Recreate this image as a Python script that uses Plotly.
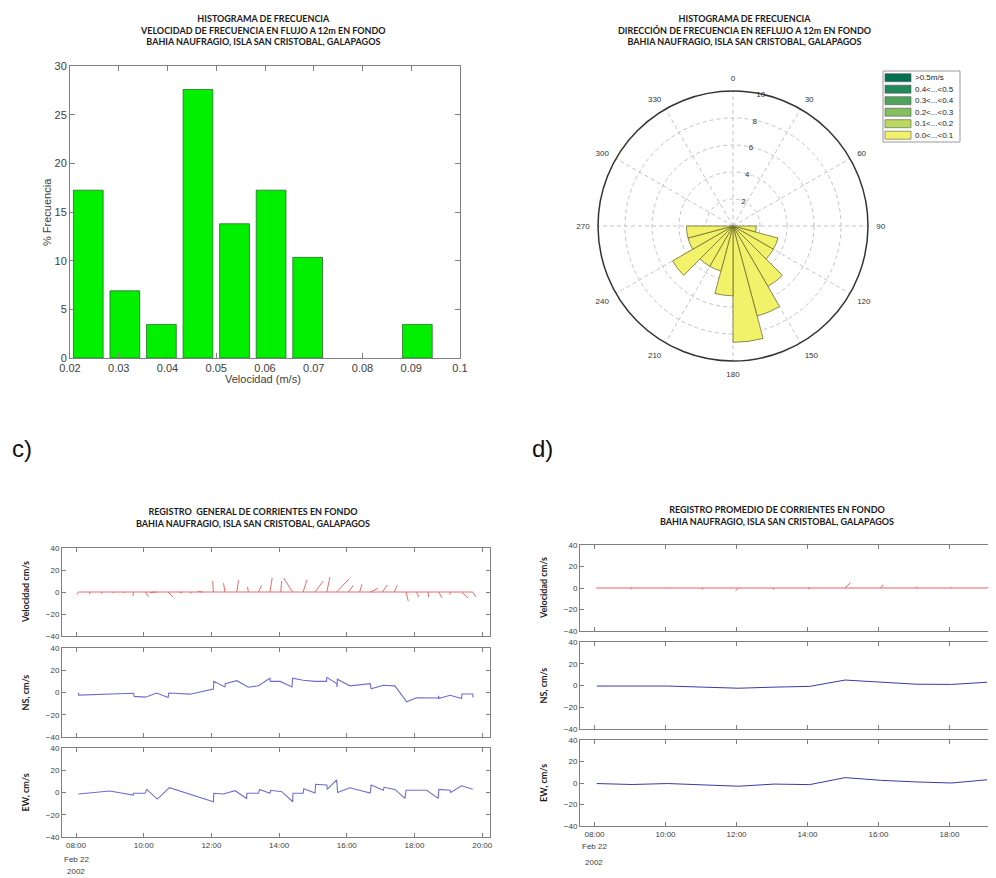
import plotly.graph_objects as go

# the page body has an 8px margin, so the figure is shrunk by it and every
# position below is given in window pixels of the 996x878 screenshot
OFF = 8
W, H = 996 - OFF, 878 - OFF

# ---------------- a) histograma de velocidad (flujo)
VEL_CENTERS = [0.02375, 0.03125, 0.03875, 0.04625, 0.05375, 0.06125, 0.06875, 0.07625, 0.08375, 0.09125]
VEL_PCT = [17.24, 6.90, 3.45, 27.59, 13.79, 17.24, 10.34, 0.0, 0.0, 3.45]

# ---------------- b) rosa de direcciones (reflujo), sectores de 15 grados
DIR_CENTERS = [97.5, 112.5, 127.5, 142.5, 157.5, 172.5, 187.5, 202.5, 217.5, 232.5, 247.5, 262.5]
DIR_PCT = [1.72, 3.45, 3.45, 5.17, 6.90, 8.62, 5.17, 3.45, 3.45, 5.17, 3.45, 3.45]
ANG_TICKS = [0, 30, 60, 90, 120, 150, 180, 210, 240, 270, 300, 330]
RAD_TICKS = [2, 4, 6, 8, 10]
LEGEND_LABELS = [">0.5m/s", "0.4<...<0.5", "0.3<...<0.4", "0.2<...<0.3", "0.1<...<0.2", "0.0<...<0.1"]
LEGEND_COLORS = ["#00704f", "#21895a", "#4ea45c", "#84c060", "#bcd95f", "#f2f26a"]

# ---------------- c) registro general (horas del 22 feb 2002)
NS_T = [8.07, 8.08, 9.70, 9.72, 10.05, 10.38, 10.72, 10.74, 11.37, 12.06, 12.07, 12.40, 12.41,
        12.75, 13.09, 13.39, 13.73, 13.74, 14.03, 14.38, 14.40, 14.71, 15.06, 15.40, 15.41,
        15.70, 15.71, 15.72, 16.09, 16.69, 16.72, 17.08, 17.42, 17.77, 18.06, 18.70, 18.71,
        18.72, 19.05, 19.39, 19.40, 19.72, 19.73]
NS_V = [0.0, -2.3, -0.7, -3.5, -4.2, -0.5, -4.5, -0.5, -1.5, 3.0, 10.0, 5.0, 8.0,
        10.6, 4.7, 6.0, 12.8, 10.0, 10.0, 5.0, 12.8, 11.0, 10.0, 10.0, 13.6,
        8.0, 5.0, 12.0, 6.0, 8.0, 3.4, 6.5, 6.0, -8.3, -4.7, -5.0, -3.0,
        -5.5, -2.5, -5.5, -1.4, -1.4, -4.5]
EW_T = [8.07, 9.00, 9.69, 9.70, 10.04, 10.09, 10.40, 10.76, 12.06, 12.07, 12.35, 12.70, 13.04,
        13.05, 13.39, 13.42, 13.73, 13.75, 14.08, 14.40, 14.41, 14.71, 14.73, 15.06, 15.08,
        15.41, 15.42, 15.70, 15.73, 16.09, 16.69, 16.72, 17.08, 17.10, 17.42, 17.72, 17.75,
        18.36, 18.70, 18.72, 19.05, 19.07, 19.39, 19.72]
EW_V = [-1.3, 1.3, -2.3, -0.7, -0.7, 2.8, -5.9, 4.3, -8.3, -0.7, -1.3, 1.6, -5.3,
        -0.7, -0.7, 2.8, -0.7, 2.0, 0.7, -8.3, -0.7, -0.7, 3.4, -0.5, 7.4,
        6.7, 2.8, 11.3, 0.0, 4.3, -0.5, 6.7, 2.0, 4.7, 2.8, -5.3, 2.0,
        2.0, -5.3, 2.8, 2.0, 0.0, 6.0, 3.0]
ST_T = [8.07, 8.41, 8.75, 9.09, 9.43, 9.70, 10.05, 10.38, 10.72, 11.06, 11.40, 11.73,
        12.06, 12.40, 12.75, 13.09, 13.39, 13.73, 14.05, 14.40, 14.71, 15.06, 15.41, 15.70,
        16.05, 16.38, 16.70, 17.05, 17.40, 17.75, 18.06, 18.40, 18.72, 19.05, 19.39, 19.72]
ST_NS = [-2.3, -2.0, -1.6, -1.2, -0.9, -3.5, -4.2, -0.5, -4.5, -0.8, -1.5, 0.5,
         10.0, 8.0, 10.6, 4.7, 6.0, 12.8, 10.0, 12.8, 11.0, 10.0, 13.6, 12.0,
         6.0, 7.0, 3.4, 6.5, 6.0, -8.3, -4.7, -4.8, -5.5, -2.5, -5.5, -4.5]
ST_EW = [-1.3, -0.3, 0.6, 1.2, 0.2, -0.7, 2.8, -5.9, 4.3, 2.0, -0.5, -4.0,
         -0.7, -1.3, 1.6, -0.7, 2.8, 2.0, 0.7, -8.3, 3.4, 7.4, 2.8, 11.3,
         4.3, 2.0, 6.7, 4.7, 2.8, 2.0, 2.0, 0.5, 2.8, 0.0, 6.0, 3.0]

# ---------------- d) registro promedio horario
AVG_T = [8.06, 9.06, 10.06, 11.06, 12.06, 13.06, 14.06, 15.06, 16.06, 17.06, 18.06, 19.06]
AVG_NS = [-0.5, -0.8, -0.5, -1.5, -2.5, -1.5, -0.8, 5.0, 3.0, 1.2, 1.0, 3.0]
AVG_EW = [-0.5, -1.4, -0.5, -1.4, -3.0, -1.0, -1.5, 5.0, 2.5, 1.0, 0.0, 3.0]

HOUR_TICKS = [8, 10, 12, 14, 16, 18, 20]
HOUR_LABELS = ["08:00", "10:00", "12:00", "14:00", "16:00", "18:00", "20:00"]

FONT = "Liberation Sans, Arial, sans-serif"
TFONT = "Lato, Open Sans, sans-serif"
GRAY = "#7f7f7f"
TXT = "#404040"


def px(x):
    return (x - OFF) / W


def py(y):
    return 1 - (y - OFF) / H


def sticks(t, u, v, hr_per_unit):
    xs, ys = [t[0], t[-1], None], [0, 0, None]
    for ti, ui, vi in zip(t, u, v):
        xs += [ti, ti + ui * hr_per_unit, None]
        ys += [0, vi, None]
    return xs, ys


fig = go.Figure()

# a) histogram (empty bins are not drawn)
bars = [(c, v) for c, v in zip(VEL_CENTERS, VEL_PCT) if v > 0]
fig.add_trace(go.Bar(x=[b[0] for b in bars], y=[b[1] for b in bars], width=0.0061,
                     marker=dict(color="#00f000", line=dict(color="#2b6b2b", width=0.8)),
                     xaxis="x", yaxis="y", showlegend=False))

# b) rose
fig.add_trace(go.Barpolar(theta=DIR_CENTERS, r=DIR_PCT, width=15,
                          marker=dict(color="#f2f26a", line=dict(color="#707030", width=0.8)),
                          subplot="polar", showlegend=False))

# c) general record
C_X0, C_X1 = 62, 490
C_RANGE = [7.586, 20.23]
C_ROWS = [(548, 636), (648, 737), (748, 837)]
c_hr_per_unit = ((C_ROWS[0][1] - C_ROWS[0][0]) / 80) / ((C_X1 - C_X0) / (C_RANGE[1] - C_RANGE[0]))
sx, sy = sticks(ST_T, ST_EW, ST_NS, c_hr_per_unit)
fig.add_trace(go.Scatter(x=sx, y=sy, mode="lines", line=dict(color="#e65a5a", width=0.9),
                         xaxis="x2", yaxis="y2", showlegend=False))
fig.add_trace(go.Scatter(x=NS_T, y=NS_V, mode="lines", line=dict(color="#6e6ed2", width=1.1),
                         xaxis="x3", yaxis="y3", showlegend=False))
fig.add_trace(go.Scatter(x=EW_T, y=EW_V, mode="lines", line=dict(color="#6e6ed2", width=1.1),
                         xaxis="x4", yaxis="y4", showlegend=False))

# d) averaged record
D_X0, D_X1 = 580, 996
D_RANGE = [7.59, 19.31]
D_ROWS = [(545, 631), (642, 729), (740, 826)]
d_hr_per_unit = ((D_ROWS[0][1] - D_ROWS[0][0]) / 80) / ((D_X1 - D_X0) / (D_RANGE[1] - D_RANGE[0]))
sx, sy = sticks(AVG_T, AVG_EW, AVG_NS, d_hr_per_unit)
fig.add_trace(go.Scatter(x=sx, y=sy, mode="lines", line=dict(color="#e65050", width=0.9),
                         xaxis="x5", yaxis="y5", showlegend=False))
fig.add_trace(go.Scatter(x=AVG_T, y=AVG_NS, mode="lines", line=dict(color="#3a3aa8", width=1),
                         xaxis="x6", yaxis="y6", showlegend=False))
fig.add_trace(go.Scatter(x=AVG_T, y=AVG_EW, mode="lines", line=dict(color="#3a3aa8", width=1),
                         xaxis="x7", yaxis="y7", showlegend=False))

axis_common = dict(showline=True, linecolor=GRAY, linewidth=1, ticks="inside", tickcolor=GRAY,
                   showgrid=False, zeroline=False, fixedrange=True, automargin=False)
layout = dict(
    width=W, height=H, margin=dict(l=0, r=0, t=0, b=0, pad=0), autosize=False,
    paper_bgcolor="white", plot_bgcolor="white",
    font=dict(family=FONT, color=TXT, size=9),
    xaxis=dict(axis_common, domain=[px(70), px(460)], range=[0.02, 0.1], tick0=0.02, dtick=0.01,
               mirror="ticks", ticklen=5, anchor="y", tickfont=dict(size=11)),
    yaxis=dict(axis_common, domain=[py(358), py(66)], range=[0, 30], dtick=5, mirror="ticks",
               ticklen=5, anchor="x", tickfont=dict(size=11)),
    polar=dict(
        domain=dict(x=[px(598), px(868)], y=[py(361), py(91)]), bgcolor="white",
        angularaxis=dict(rotation=90, direction="clockwise", tickvals=ANG_TICKS,
                         ticktext=[str(a) for a in ANG_TICKS], showline=True, linecolor="#333",
                         linewidth=1.5, gridcolor="#c4c4c4", griddash="4px,3px", ticks="outside",
                         ticklen=6, tickcolor="rgba(0,0,0,0)", tickfont=dict(size=8, color="#333")),
        radialaxis=dict(range=[0, 10], tickvals=RAD_TICKS, angle=82, tickangle=82, side="clockwise",
                        showline=False, ticks="", gridcolor="#c4c4c4", griddash="4px,3px",
                        tickfont=dict(size=8, color="#333")),
    ),
)

for i, (y0, y1) in enumerate(C_ROWS):
    n = i + 2
    last = i == len(C_ROWS) - 1
    layout[f"xaxis{n}"] = dict(axis_common, domain=[px(C_X0), px(C_X1)], range=C_RANGE,
                               tickvals=HOUR_TICKS, ticktext=HOUR_LABELS, showticklabels=last,
                               mirror="ticks", ticklen=4, anchor=f"y{n}", tickfont=dict(size=8))
    layout[f"yaxis{n}"] = dict(axis_common, domain=[py(y1), py(y0)], range=[-40, 40], dtick=20,
                               mirror="ticks", ticklen=4, anchor=f"x{n}", tickfont=dict(size=8))
for i, (y0, y1) in enumerate(D_ROWS):
    n = i + 5
    last = i == len(D_ROWS) - 1
    layout[f"xaxis{n}"] = dict(axis_common, domain=[px(D_X0), px(D_X1)], range=D_RANGE,
                               tickvals=HOUR_TICKS, ticktext=HOUR_LABELS, showticklabels=last,
                               mirror="ticks", ticklen=4, anchor=f"y{n}", tickfont=dict(size=8))
    layout[f"yaxis{n}"] = dict(axis_common, domain=[py(y1), py(y0)], range=[-40, 40], dtick=20,
                               mirror=False, ticklen=4, anchor=f"x{n}", tickfont=dict(size=8))

fig.update_layout(layout)


def note(text, x, y, size=9, bold=True, angle=0, family=TFONT, color="#1a1a1a", xanchor="center"):
    fig.add_annotation(text=f"<b>{text}</b>" if bold else text, x=px(x), y=py(y), xref="paper",
                       yref="paper", showarrow=False, textangle=angle, xanchor=xanchor,
                       yanchor="middle", font=dict(family=family, size=size, color=color))


note("HISTOGRAMA DE FRECUENCIA<br>VELOCIDAD DE FRECUENCIA EN FLUJO A 12m EN FONDO"
     "<br>BAHIA NAUFRAGIO, ISLA SAN CRISTOBAL, GALAPAGOS", 263, 30)
note("HISTOGRAMA DE FRECUENCIA<br>DIRECCIÓN DE FRECUENCIA EN REFLUJO A 12m EN FONDO"
     "<br>BAHIA NAUFRAGIO, ISLA SAN CRISTOBAL, GALAPAGOS", 744, 30)
note("REGISTRO  GENERAL DE CORRIENTES EN FONDO<br>BAHIA NAUFRAGIO, ISLA SAN CRISTOBAL, GALAPAGOS",
     253, 517)
note("REGISTRO PROMEDIO DE CORRIENTES EN FONDO<br>BAHIA NAUFRAGIO, ISLA SAN CRISTOBAL, GALAPAGOS",
     777, 515)

note("Velocidad (m/s)", 263, 379, size=11, bold=False, family=FONT, color=TXT)
note("% Frecuencia", 47, 212, size=11, bold=False, family=FONT, color=TXT, angle=-90)

note("c)", 22, 448, size=24, bold=False, family=FONT, color="#111")
note("d)", 542, 448, size=24, bold=False, family=FONT, color="#111")

for lab, (y0, y1) in zip(["Velocidad cm/s", "NS, cm/s", "EW, cm/s"], C_ROWS):
    note(lab, 25, (y0 + y1) / 2, size=9, angle=-90)
for lab, (y0, y1) in zip(["Velocidad cm/s", "NS, cm/s", "EW, cm/s"], D_ROWS):
    note(lab, 543, (y0 + y1) / 2, size=9, angle=-90)

note("Feb 22", 76, 859, size=8, bold=False, family=FONT, color=TXT)
note("2002", 76, 871, size=8, bold=False, family=FONT, color=TXT)
note("Feb 22", 594, 846, size=8, bold=False, family=FONT, color=TXT)
note("2002", 594, 862, size=8, bold=False, family=FONT, color=TXT)

# custom legend of the rose
fig.add_shape(type="rect", xref="paper", yref="paper", x0=px(883), x1=px(960), y0=py(142), y1=py(71),
              line=dict(color="#999", width=1), fillcolor="white")
for k, (lab, col) in enumerate(zip(LEGEND_LABELS, LEGEND_COLORS)):
    yc = 77.7 + 11.5 * k
    fig.add_shape(type="rect", xref="paper", yref="paper", x0=px(885), x1=px(911),
                  y0=py(yc + 4), y1=py(yc - 4), line=dict(color="#555", width=0.6), fillcolor=col)
    note(lab, 913, yc, size=8, bold=False, family=FONT, color="#222", xanchor="left")

fig.write_html("out.html")
